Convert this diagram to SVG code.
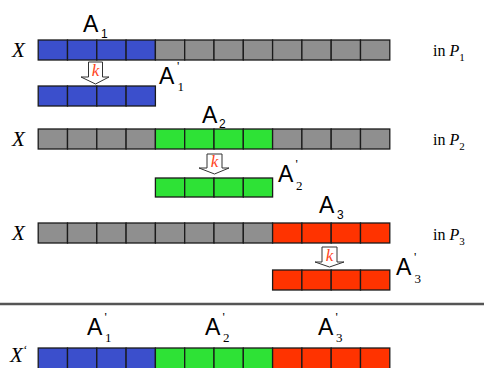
<svg xmlns="http://www.w3.org/2000/svg" width="484" height="368" viewBox="0 0 484 368">
<defs>
<style>
.c{stroke:#1a1a1a;stroke-width:1.3}
.b{fill:#3b4fcc}.g{fill:#8f8f8f}.gr{fill:#2ee236}.r{fill:#ff3300}
.lab{font-family:"Liberation Sans",Arial,sans-serif;font-size:23px;fill:#000}
.sub{font-family:"Liberation Sans",Arial,sans-serif;font-size:12px;fill:#000}
.ser{font-family:"Liberation Serif","Times New Roman",serif;font-size:13px;fill:#000}
.x{font-family:"Liberation Serif","Times New Roman",serif;font-style:italic;font-size:21px;fill:#000}
.inp{font-family:"Liberation Serif","Times New Roman",serif;font-size:16px;fill:#000}
.k{font-family:"Liberation Serif","Times New Roman",serif;font-style:italic;font-size:17px;fill:#ff4422}
.arr{fill:#fff;stroke:#333;stroke-width:1}
</style>
</defs>
<rect width="484" height="368" fill="#fff"/>

<g id="row1">
<g class="c">
<rect class="b" x="38.2" y="40" width="29.3" height="20"/><rect class="b" x="67.5" y="40" width="29.3" height="20"/><rect class="b" x="96.8" y="40" width="29.3" height="20"/><rect class="b" x="126.1" y="40" width="29.3" height="20"/>
<rect class="g" x="155.4" y="40" width="29.3" height="20"/><rect class="g" x="184.7" y="40" width="29.3" height="20"/><rect class="g" x="214" y="40" width="29.3" height="20"/><rect class="g" x="243.3" y="40" width="29.3" height="20"/>
<rect class="g" x="272.6" y="40" width="29.3" height="20"/><rect class="g" x="301.9" y="40" width="29.3" height="20"/><rect class="g" x="331.2" y="40" width="29.3" height="20"/><rect class="g" x="360.5" y="40" width="29.3" height="20"/>
</g>
<text class="x" x="12" y="57">X</text>
<text class="inp" x="433" y="56">in <tspan font-style="italic">P</tspan><tspan font-size="11" dy="5">1</tspan></text>
<text class="lab" x="83" y="32">A</text><text class="sub" x="101" y="38">1</text>
</g>

<g id="a1">
<g class="c">
<rect class="b" x="38.2" y="86" width="29.3" height="20"/><rect class="b" x="67.5" y="86" width="29.3" height="20"/><rect class="b" x="96.8" y="86" width="29.3" height="20"/><rect class="b" x="126.1" y="86" width="29.3" height="20"/>
</g>
<text class="lab" x="159" y="84">A</text><text class="ser" x="177" y="70" font-size="10">'</text><text class="ser" x="177.5" y="91">1</text>
</g>

<g id="row2">
<g class="c">
<rect class="g" x="38.2" y="129" width="29.3" height="20"/><rect class="g" x="67.5" y="129" width="29.3" height="20"/><rect class="g" x="96.8" y="129" width="29.3" height="20"/><rect class="g" x="126.1" y="129" width="29.3" height="20"/>
<rect class="gr" x="155.4" y="129" width="29.3" height="20"/><rect class="gr" x="184.7" y="129" width="29.3" height="20"/><rect class="gr" x="214" y="129" width="29.3" height="20"/><rect class="gr" x="243.3" y="129" width="29.3" height="20"/>
<rect class="g" x="272.6" y="129" width="29.3" height="20"/><rect class="g" x="301.9" y="129" width="29.3" height="20"/><rect class="g" x="331.2" y="129" width="29.3" height="20"/><rect class="g" x="360.5" y="129" width="29.3" height="20"/>
</g>
<text class="x" x="12" y="146">X</text>
<text class="inp" x="433" y="145">in <tspan font-style="italic">P</tspan><tspan font-size="11" dy="5">2</tspan></text>
<text class="lab" x="202" y="123">A</text><text class="sub" x="219" y="128">2</text>
</g>

<g id="a2">
<g class="c">
<rect class="gr" x="155.4" y="178" width="29.3" height="19"/><rect class="gr" x="184.7" y="178" width="29.3" height="19"/><rect class="gr" x="214" y="178" width="29.3" height="19"/><rect class="gr" x="243.3" y="178" width="29.3" height="19"/>
</g>
<text class="lab" x="278" y="182">A</text><text class="ser" x="295.5" y="168" font-size="10">'</text><text class="ser" x="296" y="190">2</text>
</g>

<g id="row3">
<g class="c">
<rect class="g" x="38.2" y="223" width="29.3" height="20"/><rect class="g" x="67.5" y="223" width="29.3" height="20"/><rect class="g" x="96.8" y="223" width="29.3" height="20"/><rect class="g" x="126.1" y="223" width="29.3" height="20"/>
<rect class="g" x="155.4" y="223" width="29.3" height="20"/><rect class="g" x="184.7" y="223" width="29.3" height="20"/><rect class="g" x="214" y="223" width="29.3" height="20"/><rect class="g" x="243.3" y="223" width="29.3" height="20"/>
<rect class="r" x="272.6" y="223" width="29.3" height="20"/><rect class="r" x="301.9" y="223" width="29.3" height="20"/><rect class="r" x="331.2" y="223" width="29.3" height="20"/><rect class="r" x="360.5" y="223" width="29.3" height="20"/>
</g>
<text class="x" x="12" y="240">X</text>
<text class="inp" x="433" y="240">in <tspan font-style="italic">P</tspan><tspan font-size="11" dy="5">3</tspan></text>
<text class="lab" x="319" y="213">A</text><text class="sub" x="337" y="219">3</text>
</g>

<g id="a3">
<g class="c">
<rect class="r" x="272.6" y="270" width="29.3" height="20"/><rect class="r" x="301.9" y="270" width="29.3" height="20"/><rect class="r" x="331.2" y="270" width="29.3" height="20"/><rect class="r" x="360.5" y="270" width="29.3" height="20"/>
</g>
<text class="lab" x="396" y="275">A</text><text class="ser" x="414" y="261" font-size="10">'</text><text class="ser" x="414.5" y="283">3</text>
</g>

<g id="connectors">
<polygon class="arr" points="88.5,62 102.5,62 102.5,77 109,77 95.5,84 81,77 88.5,77"/>
<text class="k" x="95.5" y="76" text-anchor="middle">k</text>
<polygon class="arr" points="207,154 222,154 222,168 229,168 214.5,174 199,168 207,168"/>
<text class="k" x="214.5" y="167" text-anchor="middle">k</text>
<polygon class="arr" points="322,247 337,247 337,262 344,262 329.5,267 315,262 322,262"/>
<text class="k" x="329.5" y="261" text-anchor="middle">k</text>
</g>

<line id="separator" x1="0" y1="304" x2="484" y2="304" stroke="#555" stroke-width="2.5"/>

<g id="result">
<g class="c">
<rect class="b" x="38.2" y="348" width="29.3" height="21"/><rect class="b" x="67.5" y="348" width="29.3" height="21"/><rect class="b" x="96.8" y="348" width="29.3" height="21"/><rect class="b" x="126.1" y="348" width="29.3" height="21"/>
<rect class="gr" x="155.4" y="348" width="29.3" height="21"/><rect class="gr" x="184.7" y="348" width="29.3" height="21"/><rect class="gr" x="214" y="348" width="29.3" height="21"/><rect class="gr" x="243.3" y="348" width="29.3" height="21"/>
<rect class="r" x="272.6" y="348" width="29.3" height="21"/><rect class="r" x="301.9" y="348" width="29.3" height="21"/><rect class="r" x="331.2" y="348" width="29.3" height="21"/><rect class="r" x="360.5" y="348" width="29.3" height="21"/>
</g>
<text class="x" x="10" y="362">X<tspan font-size="12" dy="-8">‘</tspan></text>
<text class="lab" x="87" y="335">A</text><text class="ser" x="104.5" y="321" font-size="10">'</text><text class="ser" x="105" y="342">1</text>
<text class="lab" x="205" y="335">A</text><text class="ser" x="222.5" y="321" font-size="10">'</text><text class="ser" x="223" y="342">2</text>
<text class="lab" x="318" y="335">A</text><text class="ser" x="335.5" y="321" font-size="10">'</text><text class="ser" x="336" y="342">3</text>
</g>
</svg>
